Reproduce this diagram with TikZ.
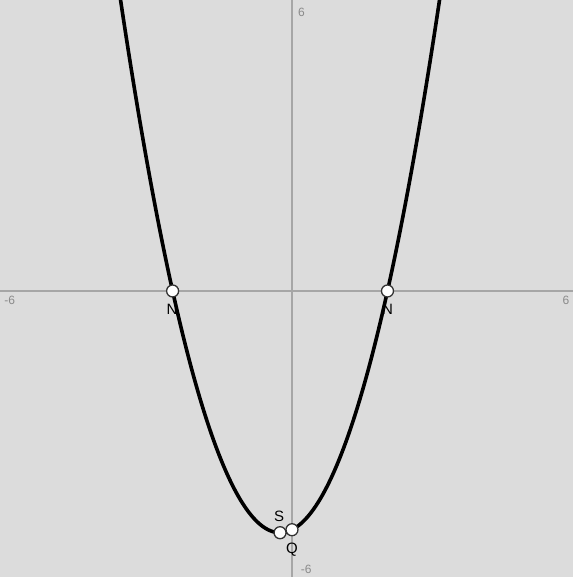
\documentclass[tikz,border=0pt]{standalone}
\usepackage{fontspec}
\setmainfont{Liberation Sans}
\definecolor{bgc}{HTML}{DCDCDC}
\definecolor{axc}{HTML}{A6A6A6}
\definecolor{lblc}{HTML}{8A8A8A}
\tikzset{
  axis/.style={draw=axc,line width=1.8pt},
  curve/.style={draw=black,line width=3.6pt},
  pt/.style={circle,draw=black!80,fill=white,line width=1.3pt,inner sep=0pt,minimum size=12pt},
  ticklbl/.style={text=lblc,font=\fontsize{12}{14}\selectfont,inner sep=0pt},
  ptlbl/.style={text=black,font=\fontsize{15}{17}\selectfont,inner sep=0pt}
}
\begin{document}
\begin{tikzpicture}[x=47.75pt,y=47.75pt]
\useasboundingbox (-6.115,-5.99) rectangle (5.885,6.094);
\fill[bgc] (-6.115,-5.99) rectangle (5.885,6.094);
\begin{scope}
\clip (-6.115,-5.99) rectangle (5.885,6.094);
\coordinate (xl) at (-6.115,0);
\coordinate (xr) at (5.885,0);
\coordinate (yb) at (0,-5.99);
\coordinate (yt) at (0,6.094);
\draw[axis] (xl) -- (xr);
\draw[axis] (yb) -- (yt);
\node[ticklbl,anchor=west] (lx) at (-6.03,-0.2) {-6};
\node[ticklbl] (rx) at (5.74,-0.2) {6};
\node[ticklbl] (ty) at (0.2,5.83) {6};
\node[ticklbl] (by) at (0.3,-5.84) {-6};
\draw[curve] plot[domain=-3.7:3.2,samples=200] (\x,{\x*\x+0.5*\x-5});
\end{scope}
\node[pt] (N1) at (-2.5,0) {};
\node[pt] (N2) at (2,0) {};
\node[pt] (S) at (-0.25,-5.0625) {};
\node[pt] (Q) at (0,-5) {};
\node[ptlbl] (lN1) at (-2.51,-0.39) {N};
\node[ptlbl] (lN2) at (2,-0.39) {N};
\node[ptlbl] (lS) at (-0.27,-4.72) {S};
\node[ptlbl] (lQ) at (0,-5.41) {Q};
\end{tikzpicture}
\end{document}
